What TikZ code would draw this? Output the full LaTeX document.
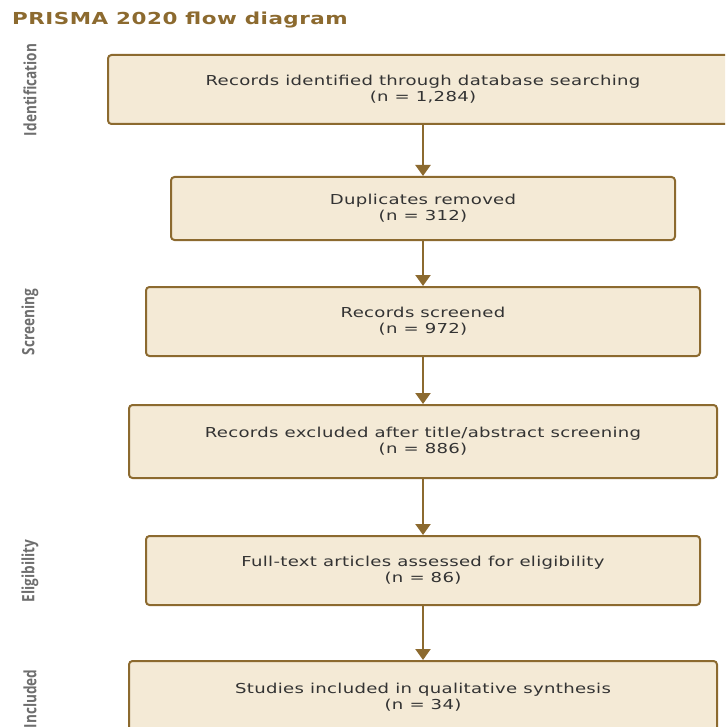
\documentclass[tikz,border=0pt]{standalone}
\usepackage{fontspec}
\setmainfont{DejaVu Sans}
\newfontfamily\boxfont[FakeStretch=1.32,LetterSpace=2.2]{DejaVu Sans}
\newfontfamily\titlefont[FakeStretch=1.3,LetterSpace=3]{DejaVu Sans Bold}
\newfontfamily\sidefont[FakeStretch=0.8]{Open Sans Bold}
\usetikzlibrary{arrows.meta}
\definecolor{brd}{HTML}{8C6A2F}
\definecolor{fillc}{HTML}{F4EAD6}
\definecolor{txt}{HTML}{333333}
\definecolor{side}{HTML}{6E6E6E}
\tikzset{
  stagebox/.style={draw=brd, line width=2pt, fill=fillc, rounded corners=3.5pt, inner sep=0pt},
  boxtext/.style={font=\boxfont\fontsize{13.7}{16}\selectfont, text=txt, align=center},
  flow/.style={draw=brd, line width=2.2pt, -{Triangle[length=11pt,width=15pt]}},
  sidelabel/.style={font=\sidefont\fontsize{17}{19}\selectfont, text=side, rotate=90}
}
\begin{document}
\begin{tikzpicture}[x=1pt,y=-1pt]
\useasboundingbox (0,0) rectangle (725,727);
\begin{scope}
\clip (0,0) rectangle (725,727);
\node[anchor=west, font=\titlefont\fontsize{16.5}{19}\selectfont, text=brd, inner sep=0pt] (title) at (12,20) {PRISMA 2020 flow diagram};

\path[stagebox] (108,55) rectangle (738,124);
\path[stagebox] (171,177) rectangle (675,240);
\path[stagebox] (146,287) rectangle (700,356);
\path[stagebox] (129,405) rectangle (717,478);
\path[stagebox] (146,536) rectangle (700,605);
\path[stagebox] (129,661) rectangle (717,736);

\node[boxtext] (b1) at (423,89.5) {Records identified through database searching\\(n = 1,284)};
\node[boxtext] (b2) at (423,208.5) {Duplicates removed\\(n = 312)};
\node[boxtext] (b3) at (423,321.5) {Records screened\\(n = 972)};
\node[boxtext] (b4) at (423,441.5) {Records excluded after title/abstract screening\\(n = 886)};
\node[boxtext] (b5) at (423,570.5) {Full-text articles assessed for eligibility\\(n = 86)};
\node[boxtext] (b6) at (423,697.5) {Studies included in qualitative synthesis\\(n = 34)};

\coordinate (o1) at (423,124); \coordinate (i2) at (423,176);
\coordinate (o2) at (423,240); \coordinate (i3) at (423,286);
\coordinate (o3) at (423,356); \coordinate (i4) at (423,404);
\coordinate (o4) at (423,478); \coordinate (i5) at (423,535);
\coordinate (o5) at (423,605); \coordinate (i6) at (423,660);
\draw[flow] (o1) -- (i2);
\draw[flow] (o2) -- (i3);
\draw[flow] (o3) -- (i4);
\draw[flow] (o4) -- (i5);
\draw[flow] (o5) -- (i6);

\node[sidelabel] (s1) at (30,90) {Identification};
\node[sidelabel] (s2) at (30,322) {Screening};
\node[sidelabel] (s3) at (30,571) {Eligibility};
\node[sidelabel] (s4) at (30,699) {Included};
\end{scope}
\end{tikzpicture}
\end{document}
